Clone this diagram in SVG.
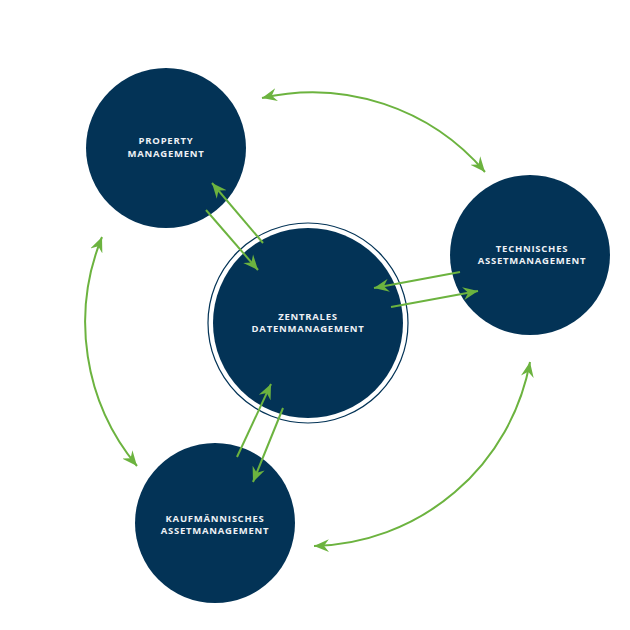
<svg xmlns="http://www.w3.org/2000/svg" width="630" height="630" viewBox="0 0 630 630">
<style>
.node{fill:#033356}
.lbl{fill:#eef1f5;font-family:"Open Sans","Liberation Sans",sans-serif;font-weight:bold;font-size:9.5px;letter-spacing:0.75px;text-anchor:middle}
.con{fill:none;stroke:#6cb33f;stroke-width:2;marker-end:url(#ah);marker-start:none}
.bi{marker-start:url(#ah)}
</style>
<defs>
<marker id="ah" viewBox="-15 -7 16 14" refX="0" refY="0" markerWidth="16" markerHeight="14" markerUnits="userSpaceOnUse" orient="auto-start-reverse">
<path d="M0,0 L-15,-6.5 L-10,0 L-15,6.5 Z" fill="#6cb33f"/>
</marker>
</defs>
<rect width="630" height="630" fill="#ffffff"/>
<g id="property">
<circle class="node" cx="166" cy="148" r="80"/>
<text class="lbl" x="166" y="144">PROPERTY</text>
<text class="lbl" x="166" y="157">MANAGEMENT</text>
</g>
<g id="technisches">
<circle class="node" cx="530" cy="255" r="80"/>
<text class="lbl" x="532" y="252">TECHNISCHES</text>
<text class="lbl" x="532" y="264">ASSETMANAGEMENT</text>
</g>
<g id="kaufmaennisch">
<circle class="node" cx="215" cy="523" r="80"/>
<text class="lbl" x="215" y="522">KAUFMÄNNISCHES</text>
<text class="lbl" x="215" y="534">ASSETMANAGEMENT</text>
</g>
<g id="zentral">
<circle cx="308" cy="323" r="100" fill="none" stroke="#033356" stroke-width="1.2"/>
<circle class="node" cx="308" cy="323" r="95"/>
<text class="lbl" x="308" y="320">ZENTRALES</text>
<text class="lbl" x="308" y="332">DATENMANAGEMENT</text>
</g>
<g id="connectors">
<path class="con" d="M263,243 L212,183"/>
<path class="con" d="M206,210 L258,270"/>
<path class="con" d="M460,272 L374,288"/>
<path class="con" d="M391,307 L478,291"/>
<path class="con" d="M237,457 L271,384"/>
<path class="con" d="M283,408 L253,482"/>
<path class="con bi" d="M262,98 A227,227 0 0 1 485,172"/>
<path class="con bi" d="M102,237 A225,225 0 0 0 137,466"/>
<path class="con bi" d="M530,362 A225,225 0 0 1 314,546"/>
</g>
</svg>
